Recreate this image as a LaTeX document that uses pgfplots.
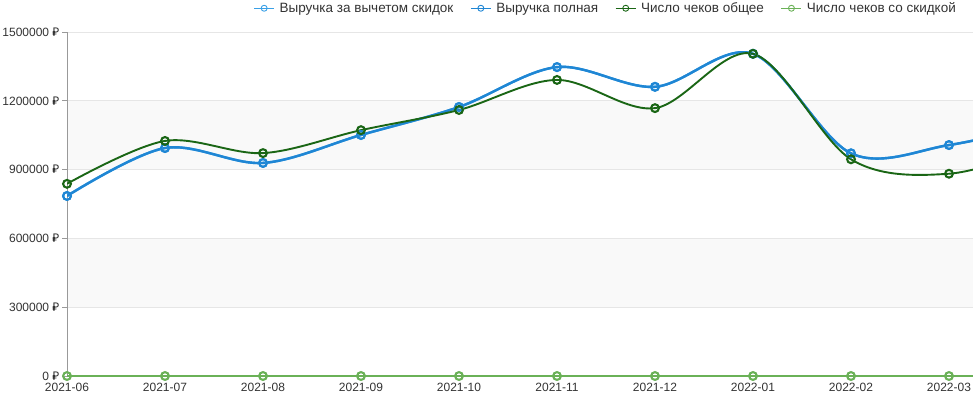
\documentclass[border=0pt]{standalone}
\usepackage{pgfplots}
\pgfplotsset{compat=1.18}
\usepackage{fontspec}
\setmainfont{Liberation Sans}
\newfontfamily\rubfont{Noto Sans}
\definecolor{blueA}{HTML}{1F86D4}
\definecolor{blueB}{HTML}{3AA0E6}
\definecolor{greenA}{HTML}{1A6615}
\definecolor{greenB}{HTML}{6AB157}
\definecolor{gridc}{HTML}{E6E6E6}
\definecolor{bandc}{HTML}{F9F9F9}
\definecolor{labc}{HTML}{333333}
\begin{document}
\begin{tikzpicture}[x=1pt,y=1pt]
\begin{axis}[
  set layers,
  at={(67pt,21pt)}, anchor=south west,
  scale only axis, width=906pt, height=344pt,
  xmin=0, xmax=9.245, ymin=0, ymax=1500000,
  xtick={0,...,9},
  xticklabels={2021-06,2021-07,2021-08,2021-09,2021-10,2021-11,2021-12,2022-01,2022-02,2022-03},
  ytick={0,300000,600000,900000,1200000,1500000},
  scaled y ticks=false,
  /pgf/number format/assume math mode=true,
  yticklabel={\pgfmathprintnumber[fixed,precision=0,1000 sep={}]{\tick}~{\rubfont ₽}},
  ymajorgrids, grid style={gridc, line width=0.8pt},
  axis x line*=bottom, axis y line*=left,
  x axis line style={draw=none},
  y axis line style={draw=gray!80, line width=0.8pt},
  xtick style={draw=none},
  ytick style={draw=gray!80, line width=0.8pt},
  tick align=outside, major tick length=5pt,
  tick label style={font=\fontsize{12}{14}\selectfont, text=labc},
  xticklabel style={yshift=1pt},
  yticklabel style={xshift=1pt},
  clip=true,
  legend columns=4,
  legend style={at={(0.9868,1.098)}, anchor=north east, draw=none, fill=none,
    font=\fontsize{13.5}{15}\selectfont, text=labc,
    /tikz/every odd column/.append style={column sep=3pt},
    /tikz/every even column/.append style={column sep=15pt},
    nodes={inner sep=2pt, font=\fontsize{13.5}{15}\selectfont, text=labc}},
  legend image code/.code={
    \draw[#1, line width=0.9pt, mark size=3pt, mark options={line width=0.9pt}] plot coordinates {(0pt,0pt) (10pt,0pt) (20pt,0pt)};
  },
  every axis plot/.append style={smooth, tension=0.55, mark=o, mark size=3.9pt},
]
\begin{pgfonlayer}{axis background}
\fill[bandc] (axis cs:0,300000) rectangle (axis cs:9.245,600000);
\fill[bandc] (axis cs:0,900000) rectangle (axis cs:9.245,1200000);
\end{pgfonlayer}
\addplot[blueB, line width=2.4pt, mark options={fill=white, line width=2.1pt}, legend image post style={mark repeat=2, mark phase=2}]
 coordinates {(0,785000) (1,994000) (2,929000) (3,1051000) (4,1173000) (5,1347000) (6,1261000) (7,1405000) (8,971000) (9,1007000) (10,1100000)};
\addplot[blueA, line width=2.4pt, mark options={fill=white, line width=2.1pt}, legend image post style={mark repeat=2, mark phase=2}]
 coordinates {(0,785000) (1,994000) (2,929000) (3,1051000) (4,1173000) (5,1347000) (6,1261000) (7,1405000) (8,971000) (9,1007000) (10,1100000)};
\addplot[greenA, line width=1.9pt, mark options={fill=white, line width=2.1pt}, legend image post style={mark repeat=2, mark phase=2}]
 coordinates {(0,838000) (1,1025000) (2,972000) (3,1072000) (4,1160000) (5,1291000) (6,1168000) (7,1405000) (8,945000) (9,882000) (10,1000000)};
\addplot[greenB, line width=1.9pt, mark options={fill=white, line width=2.1pt}, legend image post style={mark repeat=2, mark phase=2}]
 coordinates {(0,0) (1,0) (2,0) (3,0) (4,0) (5,0) (6,0) (7,0) (8,0) (9,0) (10,0)};
\legend{Выручка за вычетом скидок, Выручка полная, Число чеков общее, Число чеков со скидкой}
\end{axis}
\pgfresetboundingbox
\useasboundingbox (0,0) rectangle (973,397);
\end{tikzpicture}
\end{document}
